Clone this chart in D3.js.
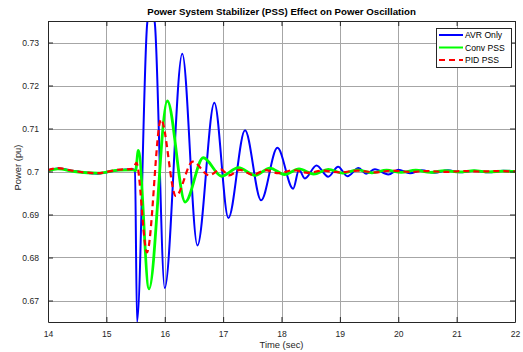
<!DOCTYPE html>
<html>
<head>
<meta charset="utf-8">
<script src="https://cdn.jsdelivr.net/npm/d3@7"></script>
<style>
  body { margin: 0; background: #fff; }
  svg { display: block; font-family: "Liberation Sans", Arial, Helvetica, sans-serif; }
</style>
</head>
<body>
<svg id="chart" width="523" height="352"></svg>
<script>
// Axis ticks
const timeTicks = [14, 15, 16, 17, 18, 19, 20, 21, 22];
const powerTicks = [0.67, 0.68, 0.69, 0.70, 0.71, 0.72, 0.73];
const powerTickLabels = ["0.67", "0.68", "0.69", "0.7", "0.71", "0.72", "0.73"];

// AVR only
const avrTime = [14.00, 14.17, 14.45, 14.85, 15.20, 15.45, 15.49, 15.525, 15.70, 15.765, 15.83, 16.00,
  16.30, 16.56, 16.85, 17.09, 17.375, 17.65, 17.93, 18.20, 18.30, 18.40, 18.60, 18.80, 18.97, 19.13,
  19.32, 19.45, 19.60, 19.83, 20.00, 20.20, 20.40, 20.62, 20.85, 21.05, 21.30, 21.55, 21.80, 22.00];
const avrPower = [0.7003, 0.7007, 0.7001, 0.6995, 0.7003, 0.7005, 0.7003, 0.6650, 0.7345, 0.7385, 0.7345, 0.6729,
  0.7274, 0.6828, 0.7160, 0.6892, 0.7096, 0.6933, 0.7055, 0.6960, 0.7004, 0.6984, 0.7014, 0.6988, 0.7011, 0.6989,
  0.7008, 0.6995, 0.7005, 0.6993, 0.7004, 0.6996, 0.7003, 0.6997, 0.7003, 0.6998, 0.7002, 0.6998, 0.7002, 0.7000];

// Conventional PSS
const convTime = [14.00, 14.17, 14.45, 14.85, 15.20, 15.45, 15.50, 15.547, 15.73, 16.044, 16.35, 16.66,
  16.975, 17.26, 17.55, 17.80, 18.05, 18.30, 18.55, 18.80, 19.05, 19.30, 19.55, 19.80, 20.05, 20.30,
  20.55, 20.80, 21.05, 21.30, 21.55, 21.80, 22.00];
const convPower = [0.7002, 0.7006, 0.7000, 0.6996, 0.7003, 0.7004, 0.7002, 0.7049, 0.6727, 0.7164, 0.6929, 0.7032,
  0.6989, 0.7009, 0.6991, 0.7008, 0.6993, 0.7006, 0.6994, 0.7005, 0.6996, 0.7004, 0.6997, 0.7003, 0.6998, 0.7003,
  0.6998, 0.7002, 0.6999, 0.7002, 0.6999, 0.7001, 0.7000];

// PID PSS
const pidTime = [14.00, 14.17, 14.45, 14.85, 15.20, 15.45, 15.515, 15.696, 15.936, 16.19, 16.48, 16.76,
  16.96, 17.10, 17.29, 17.51, 17.72, 17.95, 18.20, 18.45, 18.70, 19.00, 19.30, 19.60, 19.90, 20.20,
  20.50, 20.80, 21.10, 21.40, 21.70, 22.00];
const pidPower = [0.7003, 0.7008, 0.7001, 0.6996, 0.7004, 0.7006, 0.7020, 0.6812, 0.7121, 0.6943, 0.7023, 0.6991,
  0.7005, 0.6991, 0.7004, 0.6992, 0.7003, 0.6996, 0.7003, 0.6997, 0.7002, 0.6998, 0.7002, 0.6998, 0.7002, 0.6999,
  0.7001, 0.6999, 0.7001, 0.7000, 0.7001, 0.7000];

const seriesNames = ["AVR Only", "Conv PSS", "PID PSS"];
const seriesColors = ["#0000ff", "#00ff00", "#ff0000"];

const series = [
  { name: seriesNames[0], color: seriesColors[0], width: 2, dash: null, t: avrTime, p: avrPower },
  { name: seriesNames[1], color: seriesColors[1], width: 2.8, dash: null, t: convTime, p: convPower },
  { name: seriesNames[2], color: seriesColors[2], width: 2.2, dash: "6,4", t: pidTime, p: pidPower }
];

const plot = { left: 48, right: 515, top: 21, bottom: 322 };

const svg = d3.select("#chart");

const x = d3.scaleLinear().domain([14, 22]).range([plot.left, plot.right]);
const y = d3.scaleLinear().domain([0.665, 0.735]).range([plot.bottom, plot.top]);

svg.append("rect").attr("width", 523).attr("height", 352).attr("fill", "#fff");

svg.append("defs").append("clipPath").attr("id", "plotClip")
  .append("rect")
  .attr("x", plot.left).attr("y", plot.top)
  .attr("width", plot.right - plot.left).attr("height", plot.bottom - plot.top);

// Grid
const grid = svg.append("g").attr("stroke", "#a6a6a6").attr("stroke-width", 1);
grid.selectAll(".gx").data(timeTicks).join("line")
  .attr("x1", d => Math.round(x(d)) + 0.5).attr("x2", d => Math.round(x(d)) + 0.5)
  .attr("y1", plot.top).attr("y2", plot.bottom);
grid.selectAll(".gy").data(powerTicks).join("line")
  .attr("y1", d => Math.round(y(d)) + 0.5).attr("y2", d => Math.round(y(d)) + 0.5)
  .attr("x1", plot.left).attr("x2", plot.right);

// Curves
const line = d3.line()
  .x(d => x(d[0]))
  .y(d => y(d[1]))
  .curve(d3.curveMonotoneX);

const curves = svg.append("g").attr("clip-path", "url(#plotClip)");
series.forEach(s => {
  const pts = s.t.map((t, i) => [t, s.p[i]]);
  curves.append("path")
    .datum(pts)
    .attr("fill", "none")
    .attr("stroke", s.color)
    .attr("stroke-width", s.width)
    .attr("stroke-linejoin", "round")
    .attr("stroke-dasharray", s.dash)
    .attr("d", line);
});

// Axes (box with inward ticks on all sides)
const tickLen = 5;
const axisFont = 8.6;

const bottomAxis = d3.axisBottom(x).tickValues(timeTicks).tickFormat(d3.format("d"))
  .tickSizeInner(-tickLen).tickSizeOuter(0).tickPadding(9);
const topAxis = d3.axisTop(x).tickValues(timeTicks).tickFormat("")
  .tickSizeInner(-tickLen).tickSizeOuter(0);
const leftAxis = d3.axisLeft(y).tickValues(powerTicks).tickFormat((d, i) => powerTickLabels[i])
  .tickSizeInner(-tickLen).tickSizeOuter(0).tickPadding(9);
const rightAxis = d3.axisRight(y).tickValues(powerTicks).tickFormat("")
  .tickSizeInner(-tickLen).tickSizeOuter(0);

function styleAxis(g) {
  g.select(".domain").attr("stroke", "#262626");
  g.selectAll(".tick line").attr("stroke", "#262626");
  g.selectAll("text").attr("fill", "#262626").attr("font-size", axisFont)
    .attr("font-family", "'Liberation Sans', Arial, sans-serif");
}

svg.append("g").attr("transform", `translate(0,${plot.bottom})`).call(bottomAxis).call(styleAxis);
svg.append("g").attr("transform", `translate(0,${plot.top})`).call(topAxis).call(styleAxis);
svg.append("g").attr("transform", `translate(${plot.left},0)`).call(leftAxis).call(styleAxis);
svg.append("g").attr("transform", `translate(${plot.right},0)`).call(rightAxis).call(styleAxis);

// Title and axis labels
svg.append("text")
  .attr("x", (plot.left + plot.right) / 2).attr("y", 15)
  .attr("text-anchor", "middle").attr("font-weight", "bold").attr("font-size", 9.7)
  .attr("fill", "#000")
  .text("Power System Stabilizer (PSS) Effect on Power Oscillation");

svg.append("text")
  .attr("x", (plot.left + plot.right) / 2).attr("y", 348)
  .attr("text-anchor", "middle").attr("font-size", 9.4).attr("fill", "#262626")
  .text("Time (sec)");

svg.append("text")
  .attr("transform", `translate(21,${(plot.top + plot.bottom) / 2 - 4}) rotate(-90)`)
  .attr("text-anchor", "middle").attr("font-size", 9.4).attr("fill", "#262626")
  .text("Power (pu)");

// Legend
const legend = { x: 436, y: 28, w: 75, h: 39 };
const lg = svg.append("g");
lg.append("rect")
  .attr("x", legend.x + 0.5).attr("y", legend.y + 0.5)
  .attr("width", legend.w).attr("height", legend.h)
  .attr("fill", "#fff").attr("stroke", "#262626").attr("stroke-width", 1);
series.forEach((s, i) => {
  const ly = legend.y + 7 + i * 12.5;
  lg.append("line")
    .attr("x1", legend.x + 3).attr("x2", legend.x + 27)
    .attr("y1", ly).attr("y2", ly)
    .attr("stroke", s.color).attr("stroke-width", 2)
    .attr("stroke-dasharray", s.dash);
  lg.append("text")
    .attr("x", legend.x + 29).attr("y", ly + 3.2)
    .attr("font-size", 8.6).attr("fill", "#000")
    .text(s.name);
});
</script>
</body>
</html>
